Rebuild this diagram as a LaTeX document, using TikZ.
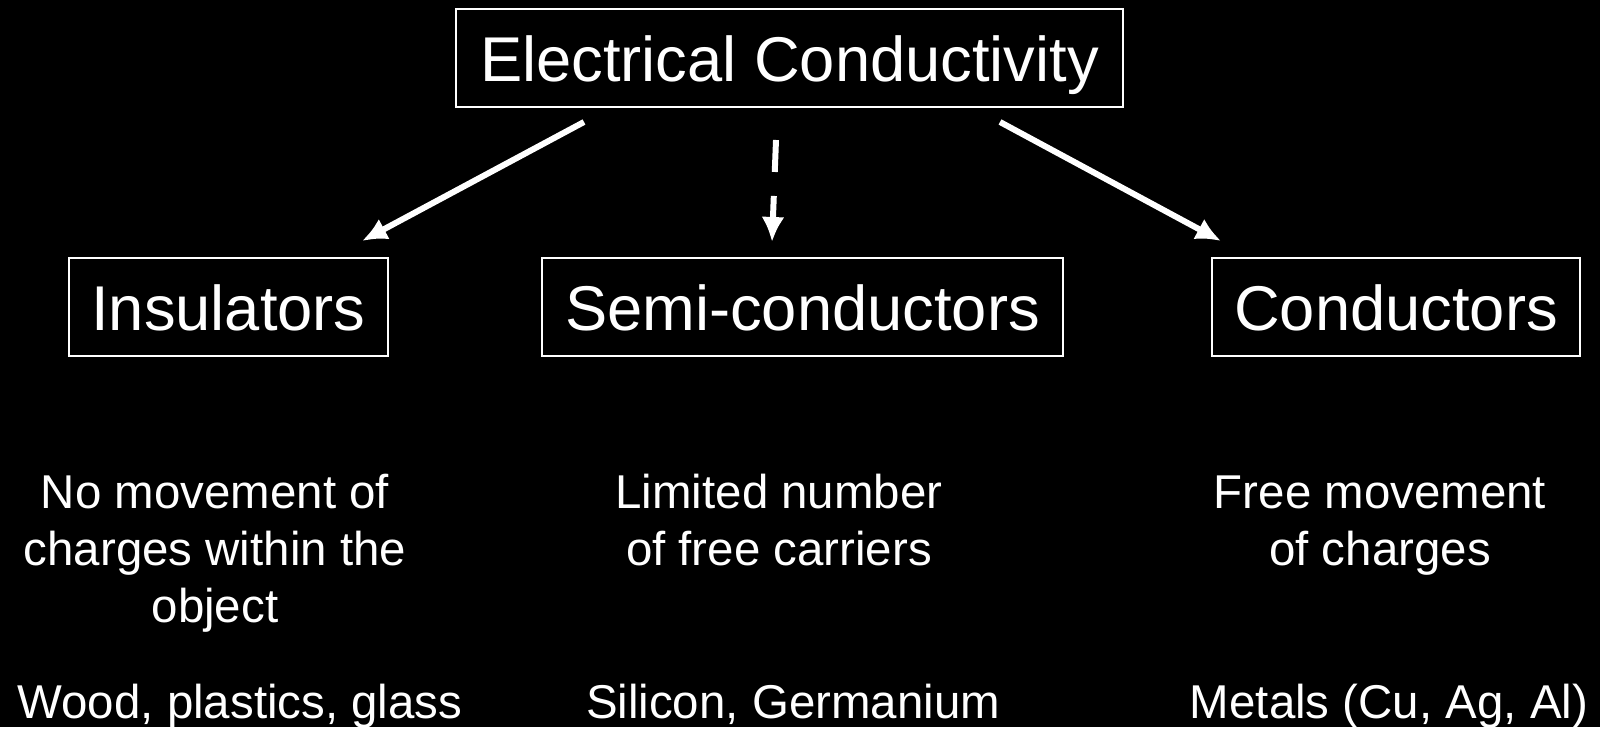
\documentclass[tikz,border=0pt]{standalone}
\usepackage{fontspec}
\setmainfont{Liberation Sans}
\usetikzlibrary{arrows.meta}

\begin{document}
\begin{tikzpicture}[white, line width=1.7pt,
    box/.style={draw, line width=0.6pt, font=\fontsize{18}{22}\selectfont, minimum height=0.98cm, inner sep=0pt, text height=16pt, text depth=2.4pt},
    note/.style={align=center, font=\fontsize{13.5}{16.2}\selectfont, anchor=base},
    arr/.style={-{Latex[length=0.25cm,width=0.23cm]}}]
    \fill[black] (0,0) rectangle (16,7.27);
    % boxes
    \node [box, minimum width=6.67cm] (EC) at (7.895,6.69) {Electrical Conductivity};
    \node [box, minimum width=3.19cm] (ins) at (2.285,4.20) {Insulators};
    \node [box, minimum width=5.21cm] (semi) at (8.025,4.20) {Semi-conductors};
    \node [box, minimum width=3.68cm] (cond) at (13.96,4.20) {Conductors};
    % descriptions (base = last line)
    \node [note] (insdesc) at (2.15,1.05) {No movement of\\charges within the\\object};
    \node [note] (semidesc) at (7.79,1.62) {Limited number\\of free carriers};
    \node [note] (conddesc) at (13.80,1.62) {Free movement\\of charges};
    \node [note] (insex) at (2.40,0.09) {Wood, plastics, glass};
    \node [note] (semiex) at (7.93,0.09) {Silicon, Germanium};
    \node [note] (condex) at (13.89,0.09) {Metals (Cu, Ag, Al)};
    % arrows
    \coordinate (ECl) at (5.84,6.05);
    \coordinate (ECm) at (7.76,5.87);
    \coordinate (ECr) at (10.00,6.05);
    \coordinate (insin) at (3.62,4.86);
    \coordinate (semiin) at (7.72,4.85);
    \coordinate (condin) at (12.21,4.86);
    \draw [arr] (ECl) -- (insin);
    \draw [arr, dash pattern=on 0.32cm off 0.24cm] (ECm) -- (semiin);
    \draw [arr] (ECr) -- (condin);
\end{tikzpicture}
\end{document}
